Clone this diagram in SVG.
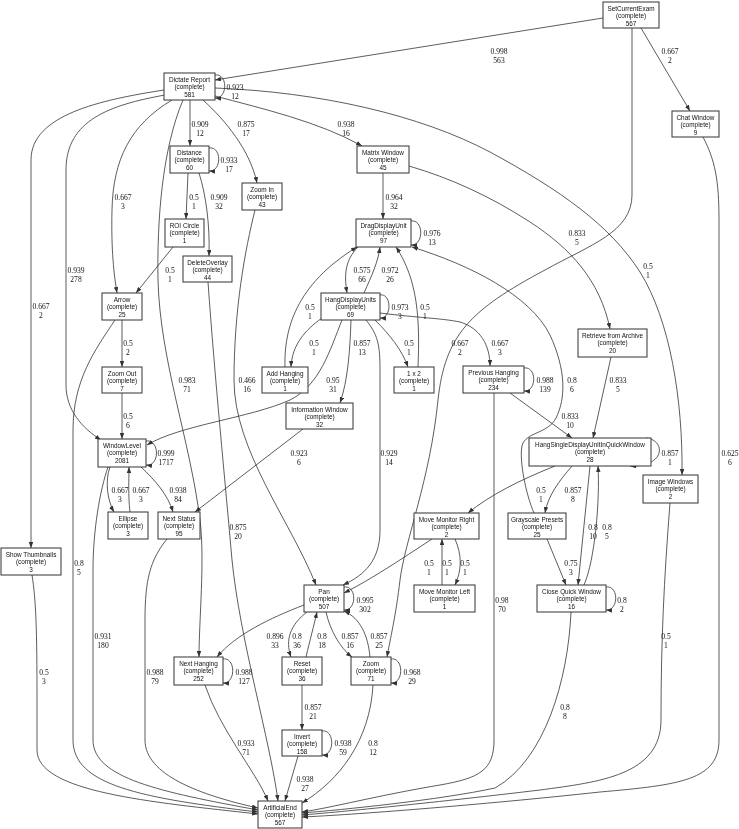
<svg xmlns="http://www.w3.org/2000/svg" width="739" height="829" viewBox="0 0 739 829">
<style>
.n rect{fill:#fff;stroke:#333;stroke-width:1}
.n text{font-family:"Liberation Sans",Arial,sans-serif;font-size:6.4px;text-anchor:middle;fill:#111}
#connectors path{fill:none;stroke:#333;stroke-width:0.8;marker-end:url(#a)}
#connectors text{font-family:"Liberation Serif","Times New Roman",serif;font-size:7.6px;text-anchor:middle;fill:#111}
</style>
<defs>
<marker id="a" viewBox="0 0 8 6" refX="8" refY="3" markerWidth="6" markerHeight="4.5" markerUnits="userSpaceOnUse" orient="auto"><path d="M0,0 L8,3 L0,6 z" fill="#333"/></marker>
<filter id="gray" x="0" y="0" width="739" height="829" filterUnits="userSpaceOnUse"><feColorMatrix type="saturate" values="0"/></filter>
</defs>
<rect width="739" height="829" fill="#fff"/>
<g filter="url(#gray)">
<rect width="739" height="829" fill="#fff"/>
<g id="connectors">
<path d="M603,18 L215,80"/><text x="499" y="53.6">0.998<tspan x="499" dy="9">563</tspan></text>
<path d="M641,28 L690,111"/><text x="670" y="53.6">0.667<tspan x="670" dy="9">2</tspan></text>
<path d="M632,28 L632,195 C632,232 590,245 545,270 C470,310 445,335 438,400 C430,480 405,540 400,580 C396,615 390,640 387,657"/><text x="460" y="345.6">0.667<tspan x="460" dy="9">2</tspan></text>
<path d="M215,75 C228,73 228,99 215,98"/><text x="235" y="89.6">0.923<tspan x="235" dy="9">12</tspan></text>
<path d="M190,100 L190,146"/><text x="200" y="126.6">0.909<tspan x="200" dy="9">12</tspan></text>
<path d="M203,100 C225,120 250,150 257,183"/><text x="246" y="126.6">0.875<tspan x="246" dy="9">17</tspan></text>
<path d="M215,96 C260,108 320,122 362,146"/><text x="346" y="126.6">0.938<tspan x="346" dy="9">16</tspan></text>
<path d="M215,88 C320,92 420,115 490,152 C560,190 610,225 640,272 C670,320 683,400 682,475"/><text x="648" y="268.6">0.5<tspan x="648" dy="9">1</tspan></text>
<path d="M409,166 C450,178 490,196 530,222 C570,248 600,280 610,329"/><text x="577" y="235.6">0.833<tspan x="577" dy="9">5</tspan></text>
<path d="M172,100 C130,125 113,160 112,210 C111,250 114,275 117,293"/><text x="123" y="199.6">0.667<tspan x="123" dy="9">3</tspan></text>
<path d="M165,95 C110,105 66,120 66,170 L66,385 C66,410 82,428 101,440"/><text x="76" y="272.6">0.939<tspan x="76" dy="9">278</tspan></text>
<path d="M164,90 C100,100 31,115 31,160 L31,548"/><text x="41" y="308.6">0.667<tspan x="41" dy="9">2</tspan></text>
<path d="M183,100 C162,150 157,220 158,280 C160,360 190,440 200,520 C205,560 199,620 199,657"/><text x="187" y="382.6">0.983<tspan x="187" dy="9">71</tspan></text>
<path d="M255,210 C245,250 234,310 234,380 C234,450 290,520 316,585"/><text x="247" y="382.6">0.466<tspan x="247" dy="9">16</tspan></text>
<path d="M209,148 C222,146 222,172 209,171"/><text x="229" y="162.6">0.933<tspan x="229" dy="9">17</tspan></text>
<path d="M188,173 L186,219"/><text x="194" y="199.6">0.5<tspan x="194" dy="9">1</tspan></text>
<path d="M199,173 C206,195 210,225 209,256"/><text x="219" y="199.6">0.909<tspan x="219" dy="9">32</tspan></text>
<path d="M173,247 L136,293"/><text x="170" y="272.6">0.5<tspan x="170" dy="9">1</tspan></text>
<path d="M383,173 L383,219"/><text x="394" y="199.6">0.964<tspan x="394" dy="9">32</tspan></text>
<path d="M411,221 C424,219 424,246 411,245"/><text x="432" y="235.6">0.976<tspan x="432" dy="9">13</tspan></text>
<path d="M358,247 C345,260 344,275 347,293"/><text x="362" y="272.6">0.575<tspan x="362" dy="9">66</tspan></text>
<path d="M364,293 C372,275 378,262 380,247"/><text x="390" y="272.6">0.972<tspan x="390" dy="9">26</tspan></text>
<path d="M380,295 C392,293 392,319 380,318"/><text x="400" y="309.6">0.973<tspan x="400" dy="9">3</tspan></text>
<path d="M322,318 C305,330 292,345 291,367"/><text x="314" y="345.6">0.5<tspan x="314" dy="9">1</tspan></text>
<path d="M351,320 C350,350 348,380 340,403"/><text x="362" y="345.6">0.857<tspan x="362" dy="9">13</tspan></text>
<path d="M375,320 C390,335 402,350 408,367"/><text x="409" y="345.6">0.5<tspan x="409" dy="9">1</tspan></text>
<path d="M380,313 C420,318 440,318 460,322 C480,328 490,345 490,366"/><text x="500" y="345.6">0.667<tspan x="500" dy="9">3</tspan></text>
<path d="M366,320 C378,335 380,345 380,370 L380,530 C380,560 365,575 343,585"/><text x="389" y="455.6">0.929<tspan x="389" dy="9">14</tspan></text>
<path d="M342,320 C330,350 320,385 290,400 C250,418 180,425 147,445"/><text x="333" y="382.6">0.95<tspan x="333" dy="9">31</tspan></text>
<path d="M285,367 C284,330 295,285 357,247"/><text x="310" y="309.6">0.5<tspan x="310" dy="9">1</tspan></text>
<path d="M418,367 C420,320 418,280 396,247"/><text x="425" y="309.6">0.5<tspan x="425" dy="9">1</tspan></text>
<path d="M303,429 L195,512"/><text x="299" y="455.6">0.923<tspan x="299" dy="9">6</tspan></text>
<path d="M524,368 C537,366 537,392 524,391"/><text x="545" y="382.6">0.988<tspan x="545" dy="9">139</tspan></text>
<path d="M510,393 L572,438"/><text x="570" y="418.6">0.833<tspan x="570" dy="9">10</tspan></text>
<path d="M494,393 L494,740 C494,770 480,778 440,785 C380,795 330,808 302,812"/><text x="502" y="602.6">0.98<tspan x="502" dy="9">70</tspan></text>
<path d="M611,357 L593,438"/><text x="618" y="382.6">0.833<tspan x="618" dy="9">5</tspan></text>
<path d="M646,438 C666,440 666,467 630,466"/><text x="670" y="455.6">0.857<tspan x="670" dy="9">1</tspan></text>
<path d="M572,466 C560,480 548,495 545,513"/><text x="573" y="492.6">0.857<tspan x="573" dy="9">8</tspan></text>
<path d="M555,466 C520,480 490,495 468,513"/><text x="541" y="492.6">0.5<tspan x="541" dy="9">1</tspan></text>
<path d="M534,513 C526,495 519,460 522,446 C525,432 548,434 556,418 C566,398 566,370 550,335 C530,295 470,265 412,247"/><text x="572" y="382.6">0.8<tspan x="572" dy="9">6</tspan></text>
<path d="M590,466 L578,585"/><text x="593" y="529.6">0.8<tspan x="593" dy="9">10</tspan></text>
<path d="M584,585 C595,560 600,500 598,466"/><text x="607" y="529.6">0.8<tspan x="607" dy="9">5</tspan></text>
<path d="M547,539 L566,585"/><text x="571" y="565.6">0.75<tspan x="571" dy="9">3</tspan></text>
<path d="M606,587 C619,585 619,611 606,610"/><text x="622" y="602.6">0.8<tspan x="622" dy="9">2</tspan></text>
<path d="M571,612 C568,680 545,760 495,788 C440,800 340,810 302,813"/><text x="565" y="709.6">0.8<tspan x="565" dy="9">8</tspan></text>
<path d="M670,503 C664,580 661,640 661,720 C661,775 600,782 540,790 C440,802 340,812 302,815"/><text x="666" y="638.6">0.5<tspan x="666" dy="9">1</tspan></text>
<path d="M703,137 C715,160 719,180 719,220 L719,740 C719,780 680,785 600,792 C480,805 350,815 302,817"/><text x="730" y="455.6">0.625<tspan x="730" dy="9">6</tspan></text>
<path d="M122,320 L122,367"/><text x="128" y="345.6">0.5<tspan x="128" dy="9">2</tspan></text>
<path d="M115,320 C95,350 73,380 73,430 L73,740 C73,785 140,798 258,812"/><text x="79" y="565.6">0.8<tspan x="79" dy="9">5</tspan></text>
<path d="M32,575 C36,600 37,630 37,700 L37,750 C37,792 150,802 258,814"/><text x="44" y="674.6">0.5<tspan x="44" dy="9">3</tspan></text>
<path d="M108,467 C100,490 93,530 93,570 L93,740 C93,778 160,792 258,810"/><text x="103" y="638.6">0.931<tspan x="103" dy="9">180</tspan></text>
<path d="M167,539 C150,560 145,580 145,620 L145,740 C145,775 200,795 258,808"/><text x="155" y="674.6">0.988<tspan x="155" dy="9">79</tspan></text>
<path d="M122,393 L122,439"/><text x="128" y="418.6">0.5<tspan x="128" dy="9">6</tspan></text>
<path d="M146,441 C160,439 160,467 146,465"/><text x="166" y="455.6">0.999<tspan x="166" dy="9">1717</tspan></text>
<path d="M110,467 C105,480 107,500 114,512"/><text x="120" y="492.6">0.667<tspan x="120" dy="9">3</tspan></text>
<path d="M130,512 C128,495 129,480 129,467"/><text x="141" y="492.6">0.667<tspan x="141" dy="9">3</tspan></text>
<path d="M141,467 C155,480 168,495 173,512"/><text x="178" y="492.6">0.938<tspan x="178" dy="9">84</tspan></text>
<path d="M432,539 C400,560 370,580 344,593"/><text x="429" y="565.6">0.5<tspan x="429" dy="9">1</tspan></text>
<path d="M442,585 L442,539"/><text x="447" y="565.6">0.5<tspan x="447" dy="9">1</tspan></text>
<path d="M455,539 C462,555 462,570 455,585"/><text x="465" y="565.6">0.5<tspan x="465" dy="9">1</tspan></text>
<path d="M344,587 C357,585 357,611 344,610"/><text x="365" y="602.6">0.995<tspan x="365" dy="9">302</tspan></text>
<path d="M304,605 C270,618 235,635 217,657"/><text x="275" y="638.6">0.896<tspan x="275" dy="9">33</tspan></text>
<path d="M307,612 C290,625 285,640 291,657"/><text x="297" y="638.6">0.8<tspan x="297" dy="9">36</tspan></text>
<path d="M306,657 C310,640 314,625 317,612"/><text x="322" y="638.6">0.8<tspan x="322" dy="9">18</tspan></text>
<path d="M326,612 C330,630 340,648 352,657"/><text x="350" y="638.6">0.857<tspan x="350" dy="9">16</tspan></text>
<path d="M370,657 C368,635 360,618 344,611"/><text x="379" y="638.6">0.857<tspan x="379" dy="9">25</tspan></text>
<path d="M391,659 C404,657 404,684 391,683"/><text x="412" y="674.6">0.968<tspan x="412" dy="9">29</tspan></text>
<path d="M373,685 C370,740 340,780 302,803"/><text x="373" y="745.6">0.8<tspan x="373" dy="9">12</tspan></text>
<path d="M302,685 L302,730"/><text x="313" y="709.6">0.857<tspan x="313" dy="9">21</tspan></text>
<path d="M322,731 C335,729 335,756 322,755"/><text x="343" y="745.6">0.938<tspan x="343" dy="9">59</tspan></text>
<path d="M298,756 L285,801"/><text x="305" y="781.6">0.938<tspan x="305" dy="9">27</tspan></text>
<path d="M223,659 C236,657 236,684 223,683"/><text x="244" y="674.6">0.988<tspan x="244" dy="9">127</tspan></text>
<path d="M205,685 C220,730 255,770 268,801"/><text x="246" y="745.6">0.933<tspan x="246" dy="9">71</tspan></text>
<path d="M208,282 C215,380 225,480 232,560 C240,640 270,740 278,801"/><text x="238" y="529.6">0.875<tspan x="238" dy="9">20</tspan></text>
</g>
<g id="n-setcurrentexam" class="n"><rect x="603" y="2" width="56" height="26"/><text x="631" y="10.5">SetCurrentExam</text><text x="631" y="18">(complete)</text><text x="631" y="25.5">567</text></g>
<g id="n-dictatereport" class="n"><rect x="164" y="73" width="51" height="27"/><text x="189.5" y="81.5">Dictate Report</text><text x="189.5" y="89">(complete)</text><text x="189.5" y="96.5">581</text></g>
<g id="n-chatwindow" class="n"><rect x="672" y="111" width="47" height="26"/><text x="695.5" y="119.5">Chat Window</text><text x="695.5" y="127">(complete)</text><text x="695.5" y="134.5">9</text></g>
<g id="n-distance" class="n"><rect x="170" y="146" width="39" height="27"/><text x="189.5" y="154.5">Distance</text><text x="189.5" y="162">(complete)</text><text x="189.5" y="169.5">60</text></g>
<g id="n-zoomin" class="n"><rect x="242" y="183" width="40" height="27"/><text x="262" y="191.5">Zoom In</text><text x="262" y="199">(complete)</text><text x="262" y="206.5">43</text></g>
<g id="n-matrixwindow" class="n"><rect x="357" y="146" width="52" height="27"/><text x="383" y="154.5">Matrix Window</text><text x="383" y="162">(complete)</text><text x="383" y="169.5">45</text></g>
<g id="n-roicircle" class="n"><rect x="165" y="219" width="39" height="28"/><text x="184.5" y="227.5">ROI Circle</text><text x="184.5" y="235">(complete)</text><text x="184.5" y="242.5">1</text></g>
<g id="n-deleteoverlay" class="n"><rect x="183" y="256" width="49" height="26"/><text x="207.5" y="264.5">DeleteOverlay</text><text x="207.5" y="272">(complete)</text><text x="207.5" y="279.5">44</text></g>
<g id="n-dragdisplayunit" class="n"><rect x="356" y="219" width="55" height="28"/><text x="383.5" y="227.5">DragDisplayUnit</text><text x="383.5" y="235">(complete)</text><text x="383.5" y="242.5">97</text></g>
<g id="n-arrow" class="n"><rect x="102" y="293" width="40" height="27"/><text x="122" y="301.5">Arrow</text><text x="122" y="309">(complete)</text><text x="122" y="316.5">25</text></g>
<g id="n-hangdisplayunits" class="n"><rect x="321" y="293" width="59" height="27"/><text x="350.5" y="301.5">HangDisplayUnits</text><text x="350.5" y="309">(complete)</text><text x="350.5" y="316.5">69</text></g>
<g id="n-retrieve" class="n"><rect x="578" y="329" width="69" height="28"/><text x="612.5" y="337.5">Retrieve from Archive</text><text x="612.5" y="345">(complete)</text><text x="612.5" y="352.5">20</text></g>
<g id="n-zoomout" class="n"><rect x="102" y="367" width="40" height="26"/><text x="122" y="375.5">Zoom Out</text><text x="122" y="383">(complete)</text><text x="122" y="390.5">7</text></g>
<g id="n-addhanging" class="n"><rect x="262" y="367" width="46" height="26"/><text x="285" y="375.5">Add Hanging</text><text x="285" y="383">(complete)</text><text x="285" y="390.5">1</text></g>
<g id="n-1x2" class="n"><rect x="394" y="367" width="40" height="26"/><text x="414" y="375.5">1 x 2</text><text x="414" y="383">(complete)</text><text x="414" y="390.5">1</text></g>
<g id="n-previoushanging" class="n"><rect x="463" y="366" width="61" height="27"/><text x="493.5" y="374.5">Previous Hanging</text><text x="493.5" y="382">(complete)</text><text x="493.5" y="389.5">234</text></g>
<g id="n-informationwindow" class="n"><rect x="286" y="403" width="67" height="26"/><text x="319.5" y="411.5">Information Window</text><text x="319.5" y="419">(complete)</text><text x="319.5" y="426.5">32</text></g>
<g id="n-windowlevel" class="n"><rect x="98" y="439" width="48" height="28"/><text x="122" y="447.5">WindowLevel</text><text x="122" y="455">(complete)</text><text x="122" y="462.5">2081</text></g>
<g id="n-hsdu" class="n"><rect x="529" y="438" width="122" height="28"/><text x="590" y="446.5">HangSingleDisplayUnitInQuickWindow</text><text x="590" y="454">(complete)</text><text x="590" y="461.5">28</text></g>
<g id="n-ellipse" class="n"><rect x="108" y="512" width="40" height="27"/><text x="128" y="520.5">Ellipse</text><text x="128" y="528">(complete)</text><text x="128" y="535.5">3</text></g>
<g id="n-nextstatus" class="n"><rect x="158" y="512" width="42" height="27"/><text x="179" y="520.5">Next Status</text><text x="179" y="528">(complete)</text><text x="179" y="535.5">95</text></g>
<g id="n-imagewindows" class="n"><rect x="643" y="475" width="55" height="28"/><text x="670.5" y="483.5">Image Windows</text><text x="670.5" y="491">(complete)</text><text x="670.5" y="498.5">2</text></g>
<g id="n-showthumbnails" class="n"><rect x="1" y="548" width="60" height="27"/><text x="31" y="556.5">Show Thumbnails</text><text x="31" y="564">(complete)</text><text x="31" y="571.5">3</text></g>
<g id="n-movemonitorright" class="n"><rect x="414" y="513" width="65" height="26"/><text x="446.5" y="521.5">Move Monitor Right</text><text x="446.5" y="529">(complete)</text><text x="446.5" y="536.5">2</text></g>
<g id="n-grayscalepresets" class="n"><rect x="508" y="513" width="58" height="26"/><text x="537" y="521.5">Grayscale Presets</text><text x="537" y="529">(complete)</text><text x="537" y="536.5">25</text></g>
<g id="n-movemonitorleft" class="n"><rect x="414" y="585" width="61" height="27"/><text x="444.5" y="593.5">Move Monitor Left</text><text x="444.5" y="601">(complete)</text><text x="444.5" y="608.5">1</text></g>
<g id="n-closequickwindow" class="n"><rect x="537" y="585" width="69" height="27"/><text x="571.5" y="593.5">Close Quick Window</text><text x="571.5" y="601">(complete)</text><text x="571.5" y="608.5">16</text></g>
<g id="n-pan" class="n"><rect x="304" y="585" width="40" height="27"/><text x="324" y="593.5">Pan</text><text x="324" y="601">(complete)</text><text x="324" y="608.5">507</text></g>
<g id="n-reset" class="n"><rect x="282" y="657" width="40" height="28"/><text x="302" y="665.5">Reset</text><text x="302" y="673">(complete)</text><text x="302" y="680.5">36</text></g>
<g id="n-zoom" class="n"><rect x="351" y="657" width="40" height="28"/><text x="371" y="665.5">Zoom</text><text x="371" y="673">(complete)</text><text x="371" y="680.5">71</text></g>
<g id="n-nexthanging" class="n"><rect x="174" y="657" width="49" height="28"/><text x="198.5" y="665.5">Next Hanging</text><text x="198.5" y="673">(complete)</text><text x="198.5" y="680.5">252</text></g>
<g id="n-invert" class="n"><rect x="282" y="730" width="40" height="26"/><text x="302" y="738.5">Invert</text><text x="302" y="746">(complete)</text><text x="302" y="753.5">158</text></g>
<g id="n-artificialend" class="n"><rect x="258" y="801" width="44" height="27"/><text x="280" y="809.5">ArtificialEnd</text><text x="280" y="817">(complete)</text><text x="280" y="824.5">567</text></g>
</g>
</svg>
